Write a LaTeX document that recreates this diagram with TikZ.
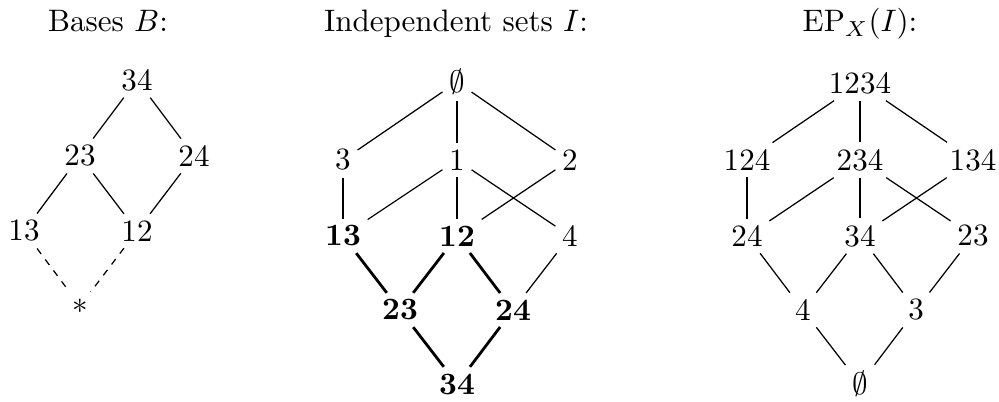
\documentclass[tikz,border=0pt]{standalone}
\begin{document}
\begin{tikzpicture}[x=0.3222pt,y=-0.3222pt,
  every node/.style={inner sep=2pt},
  ln/.style={line width=0.4pt},
  bl/.style={line width=0.9pt},
  dl/.style={line width=0.4pt,dash pattern=on 2.2pt off 2.2pt},
  title/.style={anchor=base,inner sep=0pt}]
\useasboundingbox (0,0) rectangle (999,402);
% titles
\node[title] (tB) at (108,32) {Bases $B$:};
\node[title] (tI) at (456,32) {Independent sets $I$:};
\node[title] (tE) at (860,32) {$\mathrm{EP}_X(I)$:};
% left: bases
\node (b34) at (137,80) {34};
\node (b23) at (80,156) {23};
\node (b24) at (194,156) {24};
\node (b13) at (24,231) {13};
\node (b12) at (137,231) {12};
\node (bst) at (80,306) {$*$};
\draw[ln] (b34)--(b23); \draw[ln] (b34)--(b24);
\draw[ln] (b23)--(b13); \draw[ln] (b23)--(b12); \draw[ln] (b24)--(b12);
\draw[dl] (b13)--(bst); \draw[dl] (b12)--(bst);
% middle: independent sets
\node (ie) at (457,82) {$\emptyset$};
\node (i3) at (343,160) {3};
\node (i1) at (457,160) {1};
\node (i2) at (570,160) {2};
\node (i13) at (343,236) {\textbf{13}};
\node (i12) at (457,236) {\textbf{12}};
\node (i4) at (570,236) {4};
\node (i23) at (400,310) {\textbf{23}};
\node (i24) at (513,310) {\textbf{24}};
\node (i34) at (457,384) {\textbf{34}};
\draw[ln] (ie)--(i3); \draw[ln] (ie)--(i1); \draw[ln] (ie)--(i2);
\draw[ln] (i3)--(i13); \draw[ln] (i1)--(i13); \draw[ln] (i1)--(i12);
\draw[ln] (i1)--(i4); \draw[ln] (i2)--(i12);
\draw[bl] (i13)--(i23); \draw[bl] (i12)--(i23); \draw[bl] (i12)--(i24);
\draw[ln] (i4)--(i24);
\draw[bl] (i23)--(i34); \draw[bl] (i24)--(i34);
% right: EP_X(I)
\node (e1234) at (860,83) {1234};
\node (e124) at (747,160) {124};
\node (e234) at (860,160) {234};
\node (e134) at (973,160) {134};
\node (e24) at (747,236) {24};
\node (e34) at (860,236) {34};
\node (e23) at (973,236) {23};
\node (e4) at (803,310) {4};
\node (e3) at (916,310) {3};
\node (ee) at (860,384) {$\emptyset$};
\draw[ln] (e1234)--(e124); \draw[ln] (e1234)--(e234); \draw[ln] (e1234)--(e134);
\draw[ln] (e124)--(e24); \draw[ln] (e234)--(e24); \draw[ln] (e234)--(e34);
\draw[ln] (e234)--(e23); \draw[ln] (e134)--(e34);
\draw[ln] (e24)--(e4); \draw[ln] (e34)--(e4); \draw[ln] (e34)--(e3); \draw[ln] (e23)--(e3);
\draw[ln] (e4)--(ee); \draw[ln] (e3)--(ee);
\end{tikzpicture}
\end{document}
